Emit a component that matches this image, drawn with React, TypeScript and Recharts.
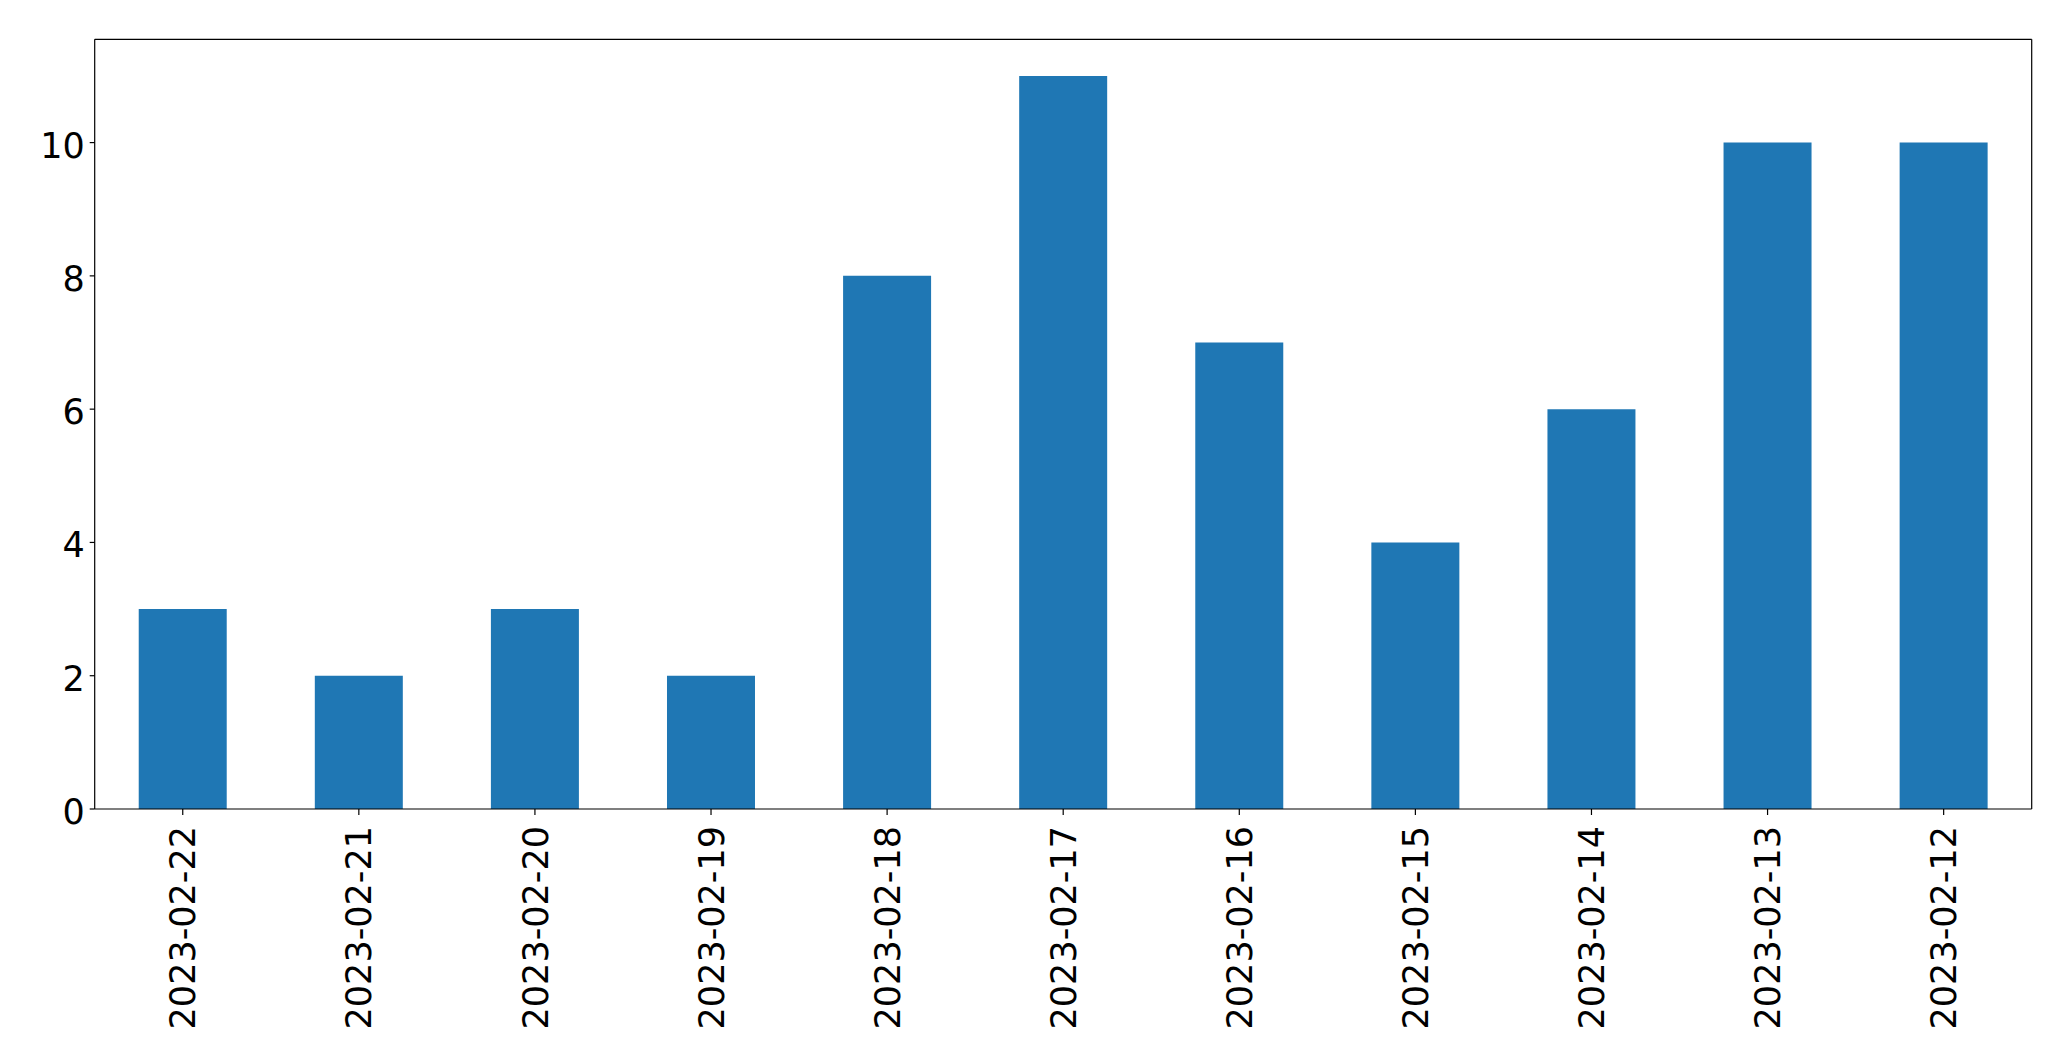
import React from "react";
import { BarChart, Bar, XAxis, YAxis } from "recharts";

const categories = [
  "2023-02-22", "2023-02-21", "2023-02-20", "2023-02-19", "2023-02-18", "2023-02-17",
  "2023-02-16", "2023-02-15", "2023-02-14", "2023-02-13", "2023-02-12",
];
const counts = [3, 2, 3, 2, 8, 11, 7, 4, 6, 10, 10];
const yTicks = [0, 2, 4, 6, 8, 10];

const data = categories.map((c, i) => ({ date: c, count: counts[i] }));

const FONT = "'DejaVu Sans', sans-serif";

const XTick = (props: any) => {
  const { x, y, payload } = props;
  return (
    <text
      x={x}
      y={y}
      transform={`rotate(-90, ${x}, ${y})`}
      textAnchor="end"
      dy="0.36em"
      fontFamily={FONT}
      fontSize={35}
      fill="#000"
    >
      {payload.value}
    </text>
  );
};

const YTick = (props: any) => {
  const { x, y, payload } = props;
  return (
    <text x={x} y={y} textAnchor="end" dy="0.43em" fontFamily={FONT} fontSize={35} fill="#000">
      {payload.value}
    </text>
  );
};

export default function App() {
  return (
    <div style={{ width: 2055, height: 1045, background: "#fff" }}>
      <BarChart
        width={2055}
        height={1045}
        data={data}
        margin={{ top: 30.3, right: 30.3, bottom: 0, left: 0 }}
        barCategoryGap="25%"
      >
        <XAxis
          dataKey="date"
          xAxisId="bottom"
          height={244}
          interval={0}
          tick={<XTick />}
          tickSize={6}
          tickMargin={11}
          axisLine={{ stroke: "#000", strokeWidth: 1.2 }}
          tickLine={{ stroke: "#000", strokeWidth: 1.2 }}
        />
        <XAxis
          dataKey="date"
          xAxisId="top"
          orientation="top"
          height={1}
          tick={false}
          tickLine={false}
          axisLine={{ stroke: "#000", strokeWidth: 1.2 }}
        />
        <YAxis
          yAxisId="left"
          width={86.7}
          domain={[0, 11.55]}
          ticks={yTicks}
          tick={<YTick />}
          tickSize={5}
          tickMargin={5}
          allowDataOverflow
          axisLine={{ stroke: "#000", strokeWidth: 1.2 }}
          tickLine={{ stroke: "#000", strokeWidth: 1.2 }}
        />
        <YAxis
          yAxisId="right"
          orientation="right"
          width={1}
          domain={[0, 11.55]}
          tick={false}
          tickLine={false}
          axisLine={{ stroke: "#000", strokeWidth: 1.2 }}
        />
        <Bar
          dataKey="count"
          xAxisId="bottom"
          yAxisId="left"
          fill="#1f77b4"
          isAnimationActive={false}
        />
      </BarChart>
    </div>
  );
}
